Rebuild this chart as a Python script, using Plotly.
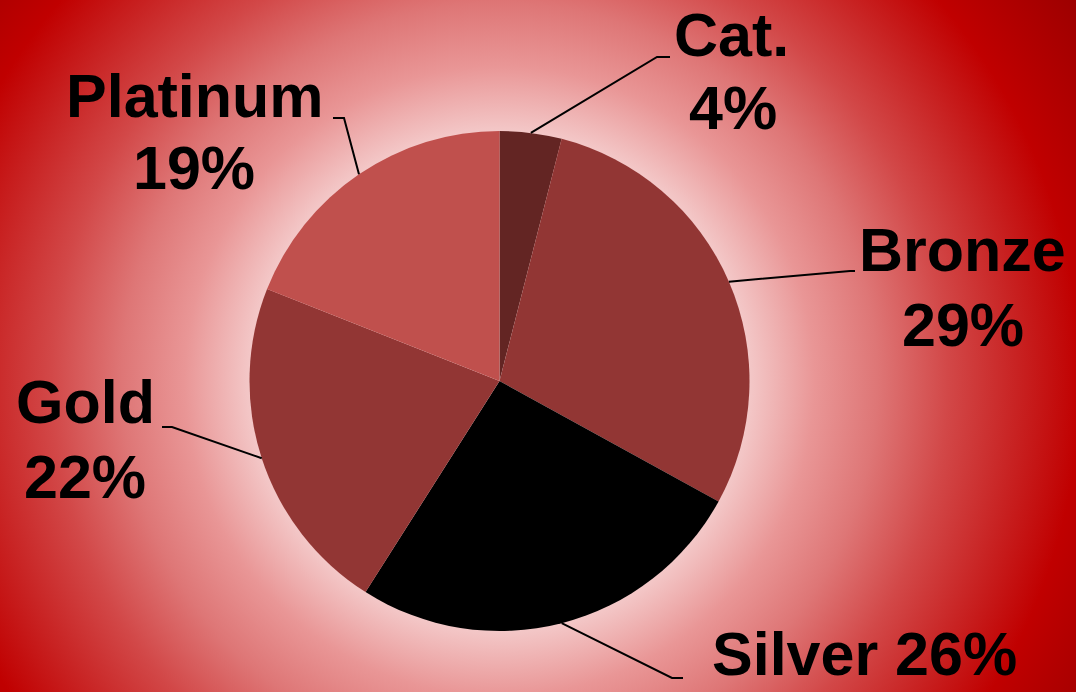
import base64
import math
import plotly.graph_objects as go

# ---------------- data ----------------
categories = ["Cat.", "Bronze", "Silver", "Gold", "Platinum"]
values = [4, 29, 26, 22, 19]

# ---------------- styling ----------------
slice_colors = ["#632523", "#923634", "#000000", "#923634", "#c0504d"]
W, H = 1076, 692
# pie placement in pixels (left, right, top, bottom)
pie_px = (249, 750, 131, 631)
font_family = "Liberation Sans, Arial, sans-serif"
font_size = 61

# per-label layout (pixels): text line centres, elbow and end of leader line
label_layout = {
    "Cat.":     dict(lines=[(731, 35), (733, 108)], elbow=(657, 57), end=(670, 57), single=False),
    "Bronze":   dict(lines=[(962, 250), (963, 325)], elbow=(850, 271), end=(855, 271), single=False),
    "Silver":   dict(lines=[(864, 654)], elbow=(672, 678), end=(683, 678), single=True),
    "Gold":     dict(lines=[(85, 402), (85, 477)], elbow=(172, 427), end=(162, 427), single=False),
    "Platinum": dict(lines=[(195, 96), (194, 168)], elbow=(344, 118), end=(333, 118), single=False),
}


def px2paper(x, y):
    return x / W, 1 - y / H


# ---------------- background (radial gradient) ----------------
stops = [
    (0.00, "#ffffff"), (0.28, "#fcecec"), (0.36, "#f3c6c6"), (0.45, "#e99696"),
    (0.54, "#de7676"), (0.64, "#d24848"), (0.74, "#c82222"), (0.83, "#c00000"),
    (1.00, "#9a0000"),
]
cx = (pie_px[0] + pie_px[1]) / 2
cy = (pie_px[2] + pie_px[3]) / 2
stop_svg = "".join(f'<stop offset="{o}" stop-color="{c}"/>' for o, c in stops)
svg = (
    f'<svg xmlns="http://www.w3.org/2000/svg" width="{W}" height="{H}" '
    f'viewBox="0 0 {W} {H}" preserveAspectRatio="none">'
    f'<defs><radialGradient id="g" gradientUnits="userSpaceOnUse" cx="{cx}" cy="{cy}" r="700">'
    f'{stop_svg}</radialGradient></defs>'
    f'<rect x="0" y="0" width="{W}" height="{H}" fill="url(#g)"/></svg>'
)
bg_uri = "data:image/svg+xml;base64," + base64.b64encode(svg.encode()).decode()

# ---------------- figure ----------------
dx0, dy1 = px2paper(pie_px[0], pie_px[2])
dx1, dy0 = px2paper(pie_px[1], pie_px[3])

fig = go.Figure(
    go.Pie(
        labels=categories,
        values=values,
        sort=False,
        direction="clockwise",
        rotation=0,
        marker=dict(colors=slice_colors, line=dict(width=0)),
        textinfo="none",
        hoverinfo="label+percent",
        showlegend=False,
        domain=dict(x=[dx0, dx1], y=[dy0, dy1]),
    )
)

# leader lines and labels derived from the data
total = sum(values)
r = min(pie_px[1] - pie_px[0], pie_px[3] - pie_px[2]) / 2
cum = 0.0
shapes, annotations = [], []
for cat, v in zip(categories, values):
    mid = (cum + v / 2) / total * 2 * math.pi
    cum += v
    ax_px = cx + r * math.sin(mid)
    ay_px = cy - r * math.cos(mid)
    lay = label_layout[cat]
    pts = [px2paper(ax_px, ay_px), px2paper(*lay["elbow"]), px2paper(*lay["end"])]
    path = "M {} {} L {} {} L {} {}".format(*[c for p in pts for c in p])
    shapes.append(dict(type="path", path=path, xref="paper", yref="paper",
                       line=dict(color="#000000", width=2)))
    pct = f"{round(v / total * 100)}%"
    texts = [f"{cat} {pct}"] if lay["single"] else [cat, pct]
    for t, (tx, ty) in zip(texts, lay["lines"]):
        x, y = px2paper(tx, ty)
        annotations.append(dict(
            text=t, x=x, y=y, xref="paper", yref="paper",
            xanchor="center", yanchor="middle", showarrow=False,
            font=dict(family=font_family, size=font_size, color="#000000", weight="bold"),
        ))

fig.update_layout(
    width=W, height=H, autosize=False,
    margin=dict(l=0, r=0, t=0, b=0, pad=0),
    paper_bgcolor="#c00000",
    plot_bgcolor="rgba(0,0,0,0)",
    images=[dict(source=bg_uri, xref="paper", yref="paper", x=0, y=1,
                 sizex=1, sizey=1, xanchor="left", yanchor="top",
                 sizing="stretch", layer="below")],
    shapes=shapes,
    annotations=annotations,
)

fig.write_html("out.html")
